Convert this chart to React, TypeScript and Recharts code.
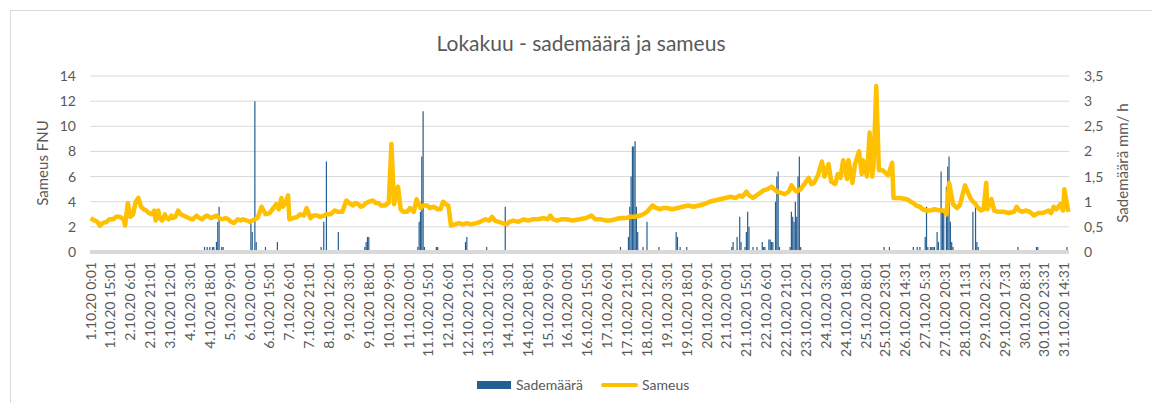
import { ComposedChart, Bar, Line, XAxis, YAxis, CartesianGrid } from 'recharts'

// hourly categories, every 15th one gets a label
const TICK_LABELS = [
  '1.10.20 0:01', '1.10.20 15:01', '2.10.20 6:01', '2.10.20 21:01', '3.10.20 12:01',
  '4.10.20 3:01', '4.10.20 18:01', '5.10.20 9:01', '6.10.20 0:01', '6.10.20 15:01',
  '7.10.20 6:01', '7.10.20 21:01', '8.10.20 12:01', '9.10.20 3:01', '9.10.20 18:01',
  '10.10.20 9:01', '11.10.20 0:01', '11.10.20 15:01', '12.10.20 6:01', '12.10.20 21:01',
  '13.10.20 12:01', '14.10.20 3:01', '14.10.20 18:01', '15.10.20 9:01', '16.10.20 0:01',
  '16.10.20 15:01', '17.10.20 6:01', '17.10.20 21:01', '18.10.20 12:01', '19.10.20 3:01',
  '19.10.20 18:01', '20.10.20 9:01', '21.10.20 0:01', '21.10.20 15:01', '22.10.20 6:01',
  '22.10.20 21:01', '23.10.20 12:01', '24.10.20 3:01', '24.10.20 18:01', '25.10.20 8:01',
  '25.10.20 23:01', '26.10.20 14:31', '27.10.20 5:31', '27.10.20 20:31', '28.10.20 11:31',
  '29.10.20 2:31', '29.10.20 17:31', '30.10.20 8:31', '30.10.20 23:31', '31.10.20 14:31',
]
const N_HOURS = 739
const LABEL_STEP = 15

// [hour index, FNU]
const TURBIDITY: [number, number][] = [
  [0, 2.7], [3, 2.5], [5, 2.4], [7, 2.1], [9, 2.3], [12, 2.4], [14, 2.6], [17, 2.6],
  [19, 2.8], [22, 2.8], [25, 2.6], [26, 2.1], [28, 3.9], [30, 2.8], [32, 3.0], [34, 4.0],
  [36, 4.3], [38, 3.6], [40, 3.4], [42, 3.3], [44, 3.1], [46, 3.0], [48, 3.3], [49, 2.5],
  [51, 3.3], [52, 2.7], [54, 2.5], [56, 3.0], [57, 2.7], [59, 2.6], [61, 2.9], [62, 2.7],
  [64, 2.8], [66, 3.3], [68, 3.0], [70, 2.9], [72, 2.8], [74, 2.7], [77, 2.6], [80, 2.9],
  [82, 2.7], [84, 2.6], [86, 2.8], [88, 2.9], [91, 2.7], [93, 2.8], [95, 2.9], [97, 2.7],
  [99, 2.6], [102, 2.7], [104, 2.6], [106, 2.4], [108, 2.3], [111, 2.6], [113, 2.5],
  [115, 2.6], [118, 2.5], [120, 2.4], [122, 2.5], [124, 2.6], [126, 2.7], [129, 3.6],
  [132, 3.0], [135, 3.1], [138, 3.5], [140, 3.8], [142, 3.4], [144, 4.3], [145, 3.6],
  [147, 3.9], [149, 4.5], [150, 2.6], [153, 2.7], [156, 2.8], [158, 3.0], [161, 2.9],
  [163, 3.5], [166, 2.7], [168, 2.9], [171, 2.9], [173, 2.8], [176, 2.9], [178, 3.0],
  [181, 3.0], [184, 3.3], [187, 3.2], [190, 3.2], [193, 4.1], [195, 3.9], [198, 3.7],
  [200, 3.9], [202, 3.8], [204, 3.6], [206, 3.7], [208, 3.9], [210, 4.0], [213, 4.1],
  [215, 3.9], [217, 3.9], [219, 3.7], [222, 3.7], [225, 3.9], [227, 8.6], [229, 3.8],
  [232, 5.2], [234, 3.4], [236, 3.2], [239, 3.2], [241, 3.5], [244, 3.2], [246, 4.2],
  [249, 3.5], [251, 3.7], [254, 3.7], [256, 3.5], [259, 3.6], [262, 3.4], [264, 3.4],
  [266, 4.0], [268, 3.8], [270, 3.7], [272, 2.1], [275, 2.2], [278, 2.3], [281, 2.2],
  [284, 2.3], [287, 2.2], [291, 2.3], [294, 2.4], [298, 2.6], [301, 2.5], [303, 2.8],
  [305, 2.5], [308, 2.4], [311, 2.3], [314, 2.2], [316, 2.4], [319, 2.5], [323, 2.4],
  [327, 2.6], [330, 2.5], [334, 2.6], [338, 2.6], [342, 2.7], [345, 2.6], [347, 2.9],
  [349, 2.6], [352, 2.5], [355, 2.6], [359, 2.6], [364, 2.5], [369, 2.6], [374, 2.7],
  [378, 2.9], [381, 2.6], [385, 2.6], [389, 2.5], [392, 2.5], [396, 2.6], [400, 2.7],
  [404, 2.7], [407, 2.8], [411, 2.8], [415, 2.9], [417, 3.0], [420, 3.2], [424, 3.7],
  [427, 3.5], [430, 3.4], [432, 3.5], [435, 3.5], [439, 3.4], [443, 3.5], [447, 3.6],
  [451, 3.7], [455, 3.6], [459, 3.7], [463, 3.8], [467, 4.0], [471, 4.1], [475, 4.2],
  [479, 4.3], [483, 4.4], [487, 4.3], [490, 4.5], [492, 4.4], [495, 4.8], [497, 4.5],
  [500, 4.3], [504, 4.6], [508, 4.9], [511, 5.0], [514, 5.2], [516, 5.0], [518, 4.8],
  [521, 4.7], [524, 4.6], [527, 4.8], [529, 5.3], [531, 5.0], [533, 4.8], [536, 5.0],
  [538, 5.3], [540, 5.6], [542, 5.9], [544, 5.4], [546, 5.5], [549, 6.1], [552, 7.2],
  [554, 6.0], [557, 7.0], [559, 5.6], [562, 5.4], [564, 6.2], [566, 5.9], [568, 7.3],
  [571, 5.8], [572, 7.3], [575, 5.5], [577, 7.0], [580, 8.0], [582, 6.2], [583, 7.3],
  [586, 6.0], [588, 9.5], [590, 6.0], [591, 7.0], [593, 13.2], [595, 6.5], [598, 6.5],
  [600, 6.3], [602, 6.1], [605, 7.1], [606, 4.3], [611, 4.3], [616, 4.2], [619, 4.0],
  [621, 3.9], [623, 3.7], [626, 3.6], [628, 3.4], [631, 3.3], [634, 3.3], [637, 3.4],
  [641, 3.3], [644, 3.3], [646, 3.0], [648, 5.5], [651, 3.8], [654, 3.5], [656, 3.7],
  [658, 4.5], [660, 5.3], [662, 4.8], [664, 4.3], [666, 4.0], [668, 3.8], [670, 3.5],
  [672, 3.3], [674, 3.4], [676, 5.5], [677, 3.4], [680, 4.2], [682, 3.3], [685, 3.2],
  [689, 3.2], [693, 3.1], [697, 3.2], [699, 3.6], [701, 3.3], [703, 3.2], [706, 3.3],
  [709, 3.2], [712, 2.9], [715, 3.1], [718, 3.1], [721, 3.2], [723, 3.3], [725, 3.1],
  [727, 3.6], [729, 3.4], [732, 3.8], [734, 3.3], [735, 5.0], [738, 3.2],
]

// [hour index, mm/h]
const RAIN: [number, number][] = [
  [86, 0.1], [88, 0.1], [90, 0.1], [92, 0.1], [93, 0.1], [95, 0.2], [96, 0.6], [97, 0.9],
  [99, 0.1], [100, 0.1], [121, 0.6], [122, 0.4], [124, 3.0], [125, 0.2], [132, 0.1],
  [141, 0.2], [174, 0.1], [176, 0.6], [178, 1.8], [187, 0.4], [207, 0.1], [208, 0.2],
  [209, 0.3], [210, 0.3], [247, 0.1], [248, 0.6], [249, 0.8], [250, 1.9], [251, 2.8],
  [252, 0.1], [261, 0.1], [262, 0.1], [283, 0.2], [284, 0.3], [299, 0.1], [313, 0.9],
  [400, 0.1], [406, 0.3], [407, 0.9], [408, 1.5], [409, 2.1], [410, 2.1], [411, 2.2],
  [412, 0.9], [413, 0.4], [417, 0.1], [420, 0.6], [429, 0.1], [442, 0.4], [443, 0.3],
  [445, 0.1], [450, 0.1], [484, 0.1], [485, 0.2], [488, 0.3], [490, 0.7], [491, 0.2],
  [494, 0.1], [495, 0.4], [496, 0.8], [497, 0.5], [500, 0.1], [503, 0.1], [507, 0.2],
  [508, 0.1], [509, 0.1], [512, 0.25], [513, 0.25], [514, 0.2], [515, 0.2], [517, 1.0],
  [518, 1.5], [519, 1.6], [520, 0.1], [528, 0.1], [529, 0.8], [530, 0.7], [531, 0.6],
  [532, 1.0], [533, 0.7], [534, 1.5], [535, 1.9], [536, 0.1], [599, 0.1], [603, 0.1],
  [621, 0.1], [624, 0.1], [626, 0.1], [630, 0.3], [631, 0.9], [632, 0.1], [634, 0.1],
  [635, 0.1], [636, 0.1], [637, 0.1], [639, 0.4], [640, 0.2], [642, 1.6], [643, 0.8],
  [644, 0.8], [646, 1.3], [647, 1.7], [648, 1.9], [649, 0.6], [650, 0.2], [651, 0.1],
  [666, 0.8], [668, 0.9], [669, 0.2], [670, 0.1], [700, 0.1], [714, 0.1], [715, 0.1],
  [737, 0.1],
]

const LEFT_TICKS = [0, 2, 4, 6, 8, 10, 12, 14]
const RIGHT_TICKS = [0, 0.5, 1, 1.5, 2, 2.5, 3, 3.5]

const BLUE = '#255e91'
const YELLOW = '#ffc000'
const TEXT = '#595959'
const FONT = 'Lato, "Liberation Sans", sans-serif'

const rainByHour = new Map(RAIN)
const turbByHour = new Map(TURBIDITY)
const data = Array.from({ length: N_HOURS }, (_, i) => ({
  i,
  sademaara: rainByHour.get(i) ?? null,
  sameus: turbByHour.get(i) ?? null,
}))

const XTick = (props: any) => {
  const { x, y, payload } = props
  const label = TICK_LABELS[payload.value / LABEL_STEP]
  if (!label) return null
  return (
    <text
      transform={`translate(${x},${y}) rotate(-90)`}
      textAnchor="end"
      dy="0.35em"
      fill={TEXT}
      fontSize={14}
      fontFamily={FONT}
    >
      {label}
    </text>
  )
}

const tickStyle = { fill: TEXT, fontSize: 14, fontFamily: FONT }

export default function App() {
  return (
    <div style={{ position: 'absolute', left: 0, top: 0, width: 1152, height: 403, overflow: 'hidden', background: '#fff', fontFamily: FONT }}>
      <div style={{ position: 'absolute', left: 10, top: 10, width: 1300, height: 600, border: '1px solid #d9d9d9' }} />
      <div style={{ position: 'absolute', left: 581, top: 42, transform: 'translate(-50%,-50%)', fontSize: 21, color: TEXT, whiteSpace: 'nowrap' }}>
        Lokakuu - sademäärä ja sameus
      </div>
      <div style={{ position: 'absolute', left: 42, top: 163, transform: 'translate(-50%,-50%) rotate(-90deg)', fontSize: 15, color: TEXT, whiteSpace: 'nowrap' }}>
        Sameus FNU
      </div>
      <div style={{ position: 'absolute', left: 1122, top: 163, transform: 'translate(-50%,-50%) rotate(-90deg)', fontSize: 15, color: TEXT, whiteSpace: 'nowrap' }}>
        Sademäärä mm/ h
      </div>

      <div style={{ position: 'absolute', left: 0, top: 0 }}>
        <ComposedChart
          width={1152}
          height={403}
          data={data}
          margin={{ top: 76, right: 33, bottom: 0, left: 40 }}
          barCategoryGap={0}
        >
          <CartesianGrid vertical={false} stroke="#d9d9d9" yAxisId="left" />
          <XAxis
            dataKey="i"
            type="category"
            interval={LABEL_STEP - 1}
            height={151}
            tick={<XTick />}
            tickLine={false}
            tickSize={0}
            tickMargin={10}
            axisLine={{ stroke: '#d9d9d9', strokeWidth: 4 }}
          />
          <YAxis
            yAxisId="left"
            domain={[0, 14]}
            ticks={LEFT_TICKS}
            width={50}
            tick={tickStyle}
            tickLine={false}
            tickSize={0}
            tickMargin={14}
            axisLine={false}
          />
          <YAxis
            yAxisId="right"
            orientation="right"
            domain={[0, 3.5]}
            ticks={RIGHT_TICKS}
            width={50}
            tick={{ ...tickStyle, textAnchor: 'start' }}
            tickFormatter={(v: number) => String(v).replace('.', ',')}
            tickLine={false}
            tickSize={0}
            tickMargin={15}
            axisLine={false}
          />
          <Bar yAxisId="right" dataKey="sademaara" fill={BLUE} barSize={1.2} isAnimationActive={false} />
          <Line
            yAxisId="left"
            dataKey="sameus"
            type="linear"
            stroke={YELLOW}
            strokeWidth={4.5}
            strokeLinejoin="round"
            dot={false}
            activeDot={false}
            connectNulls
            isAnimationActive={false}
          />
        </ComposedChart>
      </div>

      <div style={{ position: 'absolute', left: 477, top: 376, display: 'flex', alignItems: 'center', fontSize: 14, color: TEXT, whiteSpace: 'nowrap' }}>
        <span style={{ display: 'inline-block', width: 34, height: 8, background: BLUE, marginRight: 5 }} />
        <span>Sademäärä</span>
        <span style={{ display: 'inline-block', width: 37, height: 4, background: YELLOW, borderRadius: 2, marginLeft: 18, marginRight: 4 }} />
        <span>Sameus</span>
      </div>
    </div>
  )
}
